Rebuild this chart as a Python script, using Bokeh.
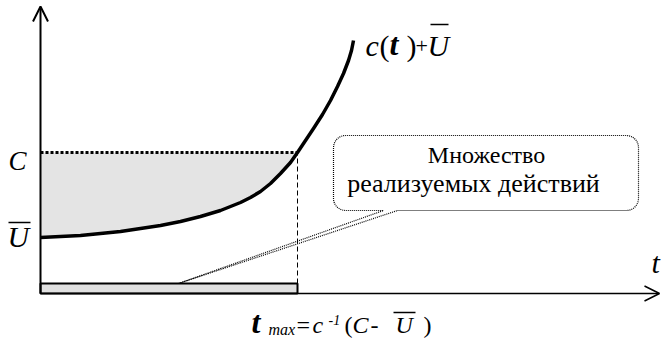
import numpy as np
from bokeh.plotting import figure
from bokeh.models import Range1d, Arrow, OpenHead
from bokeh.core.properties import value
from bokeh.embed import file_html
from bokeh.resources import INLINE

# ---- data (t horizontal, value vertical) ----
t_curve = [0, 20, 40, 60, 80, 100, 120, 140, 160, 180, 200, 210, 220, 230, 240, 250,
           257, 265, 273, 282, 290, 297, 303, 308, 311, 313]
v_curve = [56, 57, 58, 60, 62, 65, 68, 72, 77, 83, 91, 96, 102, 110, 120, 131,
           141, 153, 165, 179, 193, 207, 220, 233, 243, 253]
U_level = 56
C_level = 141
t_max = 257
callout_lines = ["Множество", "реализуемых действий"]

FONT = value("Liberation Serif")

p = figure(width=661, height=342, x_range=Range1d(-40, 621), y_range=Range1d(-49, 293),
           output_backend="svg", toolbar_location=None, min_border=0,
           x_axis_location=None, y_axis_location=None)
p.grid.visible = False
p.outline_line_color = None
p.background_fill_color = "white"

# shaded region between curve and C
tf = [t for t in t_curve if t <= t_max]
vf = [v for t, v in zip(t_curve, v_curve) if t <= t_max]
p.varea(x=tf, y1=vf, y2=[C_level] * len(tf), fill_color="#e4e4e4")

# feasible set bar
p.quad(left=[0], right=[t_max], bottom=[0], top=[10], fill_color="#e0e0e0",
       line_color="black", line_width=2)

# curve c(t)+U
p.line(t_curve, v_curve, line_color="black", line_width=3.5, line_join="round")

# C level dotted, t_max dashed
p.line([0, t_max], [C_level, C_level], line_color="black", line_width=3, line_dash="3 2")
p.line([t_max, t_max], [10, C_level], line_color="black", line_width=1, line_dash="5 3")

# callout
L, R, B, T, r = 293, 598, 83, 158, 12
tail_a, tail_b, tip = (343, 83), (357, 83), (138, 10)
def arc(cx, cy, a0, a1, n=10):
    a = np.linspace(np.radians(a0), np.radians(a1), n)
    return list(cx + r * np.cos(a)), list(cy + r * np.sin(a))
xs, ys = [], []
xs += [tail_b[0]]; ys += [tail_b[1]]
ax, ay = arc(R - r, B + r, 270, 360); xs += ax; ys += ay
ax, ay = arc(R - r, T - r, 0, 90); xs += ax; ys += ay
ax, ay = arc(L + r, T - r, 90, 180); xs += ax; ys += ay
ax, ay = arc(L + r, B + r, 180, 270); xs += ax; ys += ay
xs += [tail_a[0], tip[0], tail_b[0]]; ys += [tail_a[1], tip[1], tail_b[1]]
p.line(xs, ys, line_color="black", line_width=1.2, line_dash="1 1")

def txt(x, y, s, size, style="normal", align="left"):
    px = float(size.replace("px", ""))
    p.text(x=[x], y=[y + 0.35 * px], text=[s], text_font=FONT, text_font_size=size,
           text_font_style=style, text_align=align, text_baseline="alphabetic", text_color="black")

txt(446, 130, callout_lines[0], "24px", align="center")
txt(433, 101, callout_lines[1], "26px", align="center")

# axis labels
txt(-32, 123, "C", "27px", "italic")
txt(-33, 47, "U", "30px", "italic")
p.segment(x0=[-32], y0=[71], x1=[-10], y1=[71], line_color="black", line_width=1.5)
txt(611, 21, "t", "30px", "italic")

# curve label
txt(325, 238, "c", "30px", "italic")
txt(339, 238, "(", "30px", "normal")
txt(349, 238, "t", "32px", "bold italic")
txt(366, 238, ")", "30px", "normal")
txt(375, 240, "+", "22px", "normal")
txt(387, 238, "U", "30px", "italic")
p.segment(x0=[390], y0=[269], x1=[408], y1=[269], line_color="black", line_width=1.5)

# t_max label
txt(211, -40, "t", "32px", "bold italic")
txt(228, -42, "max", "16px", "italic")
txt(256, -40, "=", "24px", "normal")
txt(272, -40, "c", "24px", "italic")
txt(288, -31, "-1", "14px", "italic")
txt(304, -40, "(", "24px", "normal")
txt(312, -40, "C", "24px", "italic")
txt(330, -40, "-", "24px", "normal")
txt(355, -40, "U", "24px", "italic")
txt(383, -40, ")", "24px", "normal")
p.segment(x0=[353], y0=[-19], x1=[375], y1=[-19], line_color="black", line_width=1.5)

# axes with arrows
p.add_layout(Arrow(end=OpenHead(size=15, line_width=2), x_start=0, y_start=0, x_end=0, y_end=287,
                   line_width=2))
p.add_layout(Arrow(end=OpenHead(size=15, line_width=1.5), x_start=0, y_start=0, x_end=619, y_end=0,
                   line_width=1.5))

open("out.html", "w").write(file_html(p, INLINE))
